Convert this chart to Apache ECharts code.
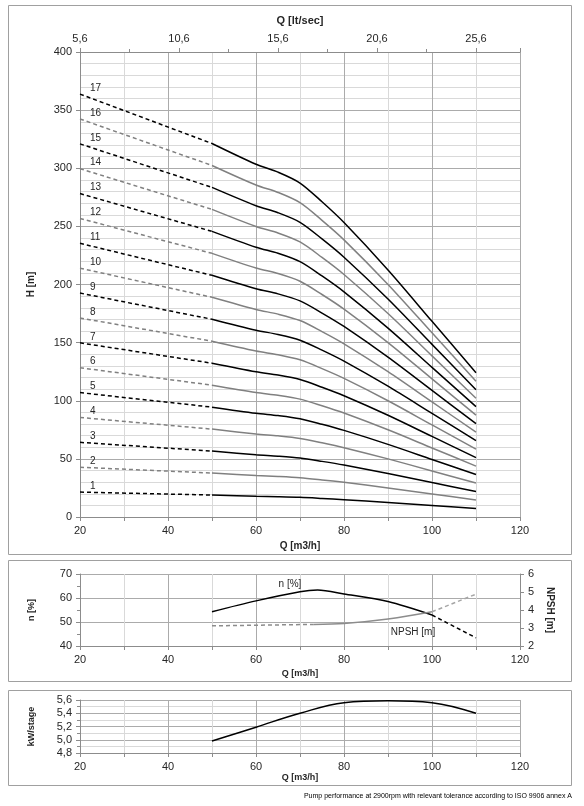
<!DOCTYPE html>
<html>
<head>
<meta charset="utf-8">
<script src="https://cdn.jsdelivr.net/npm/echarts@6/dist/echarts.min.js"></script>
<style>
  html, body { margin: 0; padding: 0; background: #fff; }
  #main { width: 584px; height: 806px; }
</style>
</head>
<body>
<div id="main"></div>
<script>
// stages (number of impellers), one H curve each
var stages = [1, 2, 3, 4, 5, 6, 7, 8, 9, 10, 11, 12, 13, 14, 15, 16, 17];

// head per stage [m] - dashed part (out of working range) and solid part
var qDash = [20, 50];
var hDash = [21.4, 18.9];
var qCurve = [50, 60, 65, 70, 75, 80, 90, 100, 110];
var hCurve = [18.9, 17.85, 17.45, 16.9, 15.95, 14.9, 12.5, 9.9, 7.3];

// efficiency n [%]
var qEff = [50, 60, 70, 74, 80, 90, 100];
var eff = [54.3, 58.8, 62.6, 63.3, 61.7, 58.5, 52.9];
var qEffDash = [100, 110];
var effDash = [52.9, 43.4];

// NPSH [m]
var qNpshA = [50, 73];
var npshA = [3.12, 3.2];
var qNpsh = [73, 80, 90, 100];
var npsh = [3.2, 3.25, 3.5, 3.9];
var qNpshB = [100, 110];
var npshB = [3.9, 4.88];

// power per stage [kW]
var qPow = [50, 60, 70, 80, 90, 100, 110];
var power = [4.98, 5.19, 5.40, 5.56, 5.59, 5.56, 5.40];

var FONT = 'Liberation Sans';
var majorGrid = '#ababab';
var minorGrid = '#d9d9d9';
var axisGray = '#8c8c8c';
var txt = '#262626';

function comma(v, d) { return v.toFixed(d).replace('.', ','); }
function pairs(xs, ys, k) { return xs.map(function (x, i) { return [x, ys[i] * (k || 1)]; }); }

function qAxis(grid, nameGap, nameSize) {
    return {
        type: 'value', gridIndex: grid, min: 20, max: 120, interval: 20,
        name: 'Q [m3/h]', nameLocation: 'middle', nameGap: nameGap,
        nameTextStyle: { fontFamily: FONT, fontWeight: 'bold', fontSize: nameSize, color: txt },
        axisLine: { show: true, lineStyle: { color: axisGray } },
        axisTick: { show: true, length: 4, lineStyle: { color: axisGray } },
        minorTick: { show: true, splitNumber: 2, length: 4, lineStyle: { color: axisGray } },
        axisLabel: { fontFamily: FONT, fontSize: 11, color: txt, margin: 8 },
        splitLine: { show: true, lineStyle: { color: majorGrid } },
        minorSplitLine: { show: true, lineStyle: { color: minorGrid } }
    };
}

var series = [];
stages.forEach(function (n) {
    var color = n % 2 ? '#000000' : '#808080';
    var d = pairs(qDash, hDash, n);
    d[0] = {
        value: d[0],
        label: { show: true, formatter: String(n), position: 'right', distance: 10, offset: [0, -6],
                 fontFamily: FONT, fontSize: 10, color: txt }
    };
    series.push({
        type: 'line', xAxisIndex: 0, yAxisIndex: 0, data: d,
        symbol: 'circle', symbolSize: 0, showSymbol: true,
        lineStyle: { color: color, width: 1.5, type: [4, 3] }
    });
    series.push({
        type: 'line', xAxisIndex: 0, yAxisIndex: 0, data: pairs(qCurve, hCurve, n),
        smooth: 0.3, symbol: 'none',
        lineStyle: { color: color, width: 1.5 }
    });
});

// efficiency
var effData = pairs(qEff, eff);
effData[2] = { value: effData[2], label: { show: true, formatter: 'n [%]', position: 'top', distance: 3,
    offset: [-10, 0], fontFamily: FONT, fontSize: 10, color: txt } };
series.push({
    type: 'line', xAxisIndex: 2, yAxisIndex: 1, data: effData, smooth: 0.3,
    symbol: 'circle', symbolSize: 0, showSymbol: true,
    lineStyle: { color: '#000', width: 1.5 }
});
series.push({
    type: 'line', xAxisIndex: 2, yAxisIndex: 1, data: pairs(qEffDash, effDash),
    symbol: 'none', lineStyle: { color: '#000', width: 1.5, type: [4, 3] }
});

// NPSH
series.push({
    type: 'line', xAxisIndex: 2, yAxisIndex: 2, data: pairs(qNpshA, npshA),
    symbol: 'none', lineStyle: { color: '#8c8c8c', width: 1.5, type: [4, 3] }
});
var npshData = pairs(qNpsh, npsh);
npshData[2] = { value: npshData[2], label: { show: true, formatter: 'NPSH [m]', position: 'bottom', distance: 5,
    offset: [25, 3], fontFamily: FONT, fontSize: 10, color: txt } };
series.push({
    type: 'line', xAxisIndex: 2, yAxisIndex: 2, data: npshData, smooth: 0.3,
    symbol: 'circle', symbolSize: 0, showSymbol: true,
    lineStyle: { color: '#8c8c8c', width: 1.5 }
});
series.push({
    type: 'line', xAxisIndex: 2, yAxisIndex: 2, data: pairs(qNpshB, npshB),
    symbol: 'none', lineStyle: { color: '#a6a6a6', width: 1.5, type: [4, 3] }
});

// power
series.push({
    type: 'line', xAxisIndex: 3, yAxisIndex: 3, data: pairs(qPow, power), smooth: 0.4,
    symbol: 'none', lineStyle: { color: '#000', width: 1.5 }
});

var chart = echarts.init(document.getElementById('main'));
chart.setOption({
    animation: false,
    textStyle: { fontFamily: FONT },
    grid: [
        { left: 80, right: 64, top: 52, height: 465 },
        { left: 80, right: 64, top: 574, height: 72 },
        { left: 80, right: 64, top: 700, height: 53 }
    ],
    xAxis: [
        qAxis(0, 22, 10),
        {
            type: 'value', gridIndex: 0, position: 'top', min: 0, max: 440 / 19.8, interval: 5,
            name: 'Q [lt/sec]', nameLocation: 'middle', nameGap: 26,
            nameTextStyle: { fontFamily: FONT, fontWeight: 'bold', fontSize: 11, color: txt },
            axisLine: { show: true, lineStyle: { color: axisGray } },
            axisTick: { show: true, length: 4, lineStyle: { color: axisGray } },
            minorTick: { show: true, splitNumber: 2, length: 3, lineStyle: { color: axisGray } },
            axisLabel: { fontFamily: FONT, fontSize: 11, color: txt, margin: 8, showMaxLabel: false,
                formatter: function (v) { return comma(v + 5.6, 1); } },
            splitLine: { show: false }
        },
        qAxis(1, 23, 9),
        qAxis(2, 20, 9)
    ],
    yAxis: [
        {
            type: 'value', gridIndex: 0, min: 0, max: 400, interval: 50,
            name: 'H [m]', nameLocation: 'middle', nameGap: 44,
            nameTextStyle: { fontFamily: FONT, fontWeight: 'bold', fontSize: 10, color: txt },
            axisLine: { show: true, lineStyle: { color: axisGray } },
            axisTick: { show: true, length: 4, lineStyle: { color: axisGray } },
            axisLabel: { fontFamily: FONT, fontSize: 11, color: txt, margin: 8 },
            splitLine: { show: true, lineStyle: { color: majorGrid } },
            minorTick: { show: false, splitNumber: 5 },
            minorSplitLine: { show: true, lineStyle: { color: minorGrid } }
        },
        {
            type: 'value', gridIndex: 1, min: 40, max: 70, interval: 10,
            name: 'n [%]', nameLocation: 'middle', nameGap: 44,
            nameTextStyle: { fontFamily: FONT, fontWeight: 'bold', fontSize: 9, color: txt },
            axisLine: { show: true, lineStyle: { color: axisGray } },
            axisTick: { show: true, length: 4, lineStyle: { color: axisGray } },
            minorTick: { show: true, splitNumber: 2, length: 3, lineStyle: { color: axisGray } },
            axisLabel: { fontFamily: FONT, fontSize: 11, color: txt, margin: 8 },
            splitLine: { show: true, lineStyle: { color: majorGrid } }
        },
        {
            type: 'value', gridIndex: 1, position: 'right', min: 2, max: 6, interval: 1,
            name: 'NPSH [m]', nameLocation: 'middle', nameGap: 24, nameRotate: -90,
            nameTextStyle: { fontFamily: FONT, fontWeight: 'bold', fontSize: 10, color: txt },
            axisLine: { show: true, lineStyle: { color: axisGray } },
            axisTick: { show: true, length: 4, lineStyle: { color: axisGray } },
            axisLabel: { fontFamily: FONT, fontSize: 11, color: txt, margin: 8 },
            splitLine: { show: false }
        },
        {
            type: 'value', gridIndex: 2, min: 4.8, max: 5.6, interval: 0.2,
            name: 'kW/stage', nameLocation: 'middle', nameGap: 44,
            nameTextStyle: { fontFamily: FONT, fontWeight: 'bold', fontSize: 9, color: txt },
            axisLine: { show: true, lineStyle: { color: axisGray } },
            axisTick: { show: true, length: 4, lineStyle: { color: axisGray } },
            minorTick: { show: true, splitNumber: 2, length: 3, lineStyle: { color: axisGray } },
            axisLabel: { fontFamily: FONT, fontSize: 11, color: txt, margin: 8,
                formatter: function (v) { return comma(v, 1); } },
            splitLine: { show: true, lineStyle: { color: majorGrid } },
            minorSplitLine: { show: true, lineStyle: { color: minorGrid } }
        }
    ],
    graphic: [
        { type: 'rect', shape: { x: 8.5, y: 5.5, width: 563, height: 549 }, style: { fill: 'none', stroke: '#a0a0a0', lineWidth: 1 }, silent: true },
        { type: 'rect', shape: { x: 8.5, y: 560.5, width: 563, height: 121 }, style: { fill: 'none', stroke: '#a0a0a0', lineWidth: 1 }, silent: true },
        { type: 'rect', shape: { x: 8.5, y: 690.5, width: 563, height: 95 }, style: { fill: 'none', stroke: '#a0a0a0', lineWidth: 1 }, silent: true },
        { type: 'text', right: 12, top: 793,
          style: { text: 'Pump performance at 2900rpm with relevant tolerance according to ISO 9906 annex A',
                   font: '7px ' + FONT, fill: '#000' } }
    ],
    series: series
});
</script>
</body>
</html>
